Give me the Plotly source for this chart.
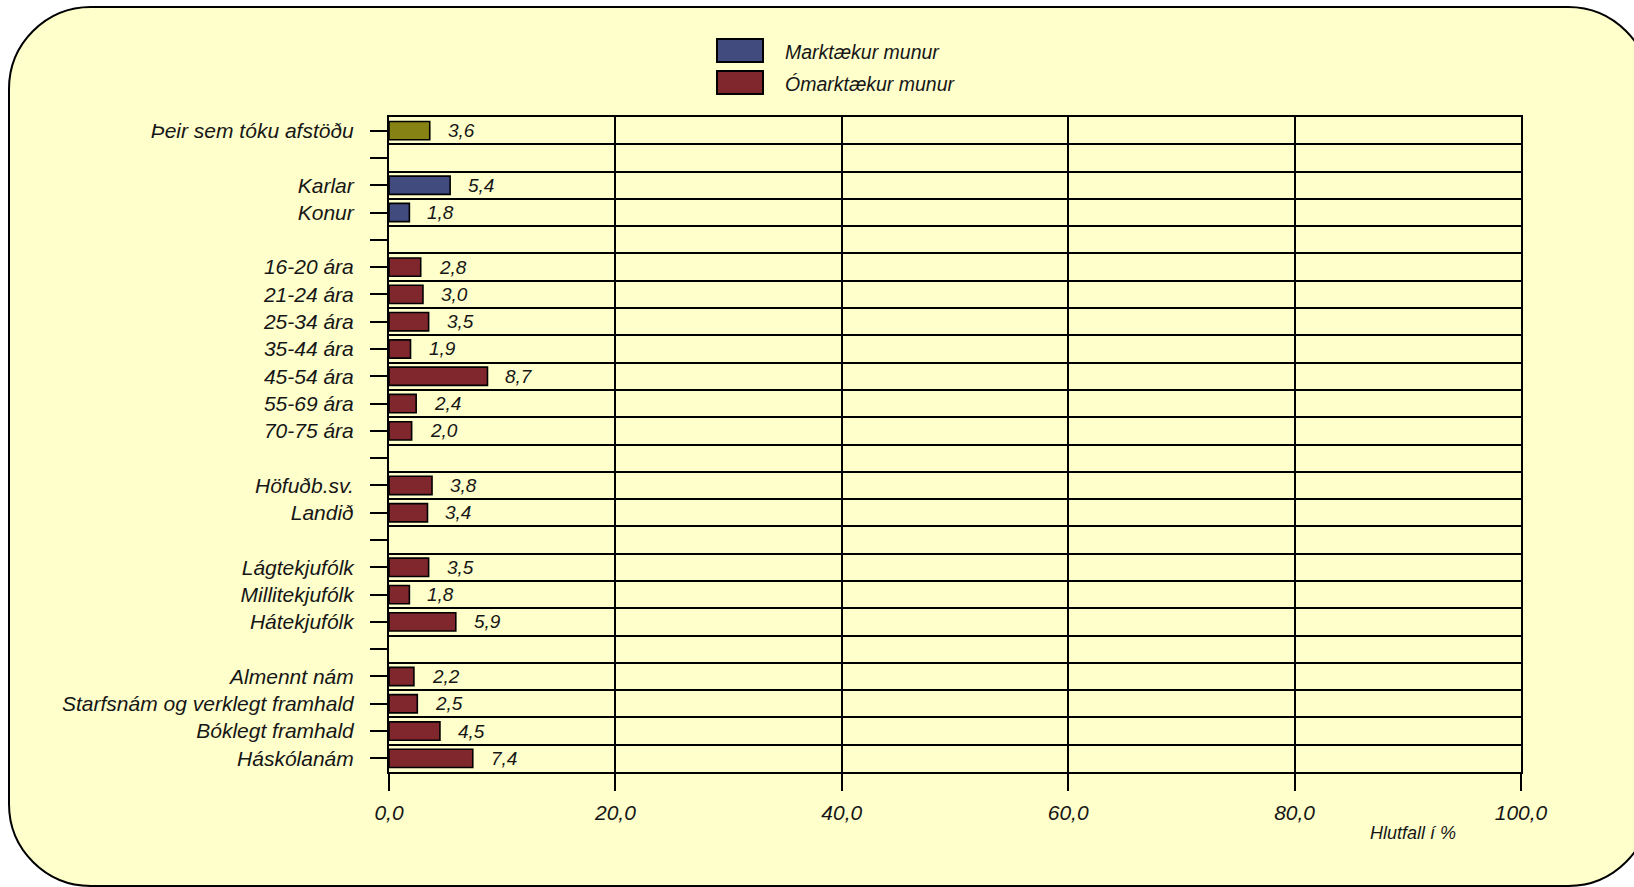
import plotly.graph_objects as go

# ---------------- data ----------------
categories = [
    "Þeir sem tóku afstöðu", "",
    "Karlar", "Konur", "",
    "16-20 ára", "21-24 ára", "25-34 ára", "35-44 ára", "45-54 ára", "55-69 ára", "70-75 ára", "",
    "Höfuðb.sv.", "Landið", "",
    "Lágtekjufólk", "Millitekjufólk", "Hátekjufólk", "",
    "Almennt nám", "Starfsnám og verklegt framhald", "Bóklegt framhald", "Háskólanám",
]
values = [
    3.6, None,
    5.4, 1.8, None,
    2.8, 3.0, 3.5, 1.9, 8.7, 2.4, 2.0, None,
    3.8, 3.4, None,
    3.5, 1.8, 5.9, None,
    2.2, 2.5, 4.5, 7.4,
]
groups = [
    "heild", "",
    "mark", "mark", "",
    "omark", "omark", "omark", "omark", "omark", "omark", "omark", "",
    "omark", "omark", "",
    "omark", "omark", "omark", "",
    "omark", "omark", "omark", "omark",
]
legend_labels = ["Marktækur munur", "Ómarktækur munur"]
legend_groups = ["mark", "omark"]
x_ticks = [0, 20, 40, 60, 80, 100]
x_ticktext = ["0,0", "20,0", "40,0", "60,0", "80,0", "100,0"]
x_title = "Hlutfall í %"

# ---------------- style ----------------
colors = {"heild": "#878214", "mark": "#414B7E", "omark": "#80272D", "": "rgba(0,0,0,0)"}
BG = "#FFFFCC"
FONT = "Liberation Sans, Arial, sans-serif"
INK = "#161616"

W, H = 1634, 887
L, R, T, B = 389, 113, 117, 115
PW, PH = W - L - R, H - T - B


def px_x(px):
    return (px - L) / PW


def px_y(py):
    return (H - B - py) / PH


rows = list(range(len(categories)))
bar_rows = [r for r, v in zip(rows, values) if v is not None]
bar_vals = [v for v in values if v is not None]
bar_cols = [colors[g] for g, v in zip(groups, values) if v is not None]

fig = go.Figure()
fig.add_trace(go.Bar(
    x=bar_vals, y=bar_rows, orientation="h",
    marker=dict(color=bar_cols, line=dict(color="#000000", width=1.6)),
    width=0.67, showlegend=False, hoverinfo="x+y",
))

# value labels
for r, v in zip(bar_rows, bar_vals):
    fig.add_annotation(
        x=v, y=r, xref="x", yref="y", text=f"{v:.1f}".replace(".", ","),
        showarrow=False, xanchor="left", yanchor="middle", xshift=16,
        font=dict(family=FONT, size=19, color=INK, style="italic"),
    )

fig.update_xaxes(
    range=[0, 100], tickvals=x_ticks, ticktext=x_ticktext,
    showgrid=True, gridcolor="#000000", gridwidth=2,
    ticks="outside", ticklen=17, tickwidth=2, tickcolor="#000000",
    showline=True, mirror=True, linecolor="#000000", linewidth=2,
    zeroline=False, ticklabelstandoff=4,
    tickfont=dict(family=FONT, size=21, color=INK, style="italic"),
)
fig.update_yaxes(
    range=[len(categories) - 0.5, -0.5], tickvals=rows, ticktext=categories,
    showgrid=False, zeroline=False,
    ticks="outside", ticklen=17, tickwidth=2, tickcolor="#000000",
    showline=True, mirror=True, linecolor="#000000", linewidth=2,
    ticklabelstandoff=12,
    tickfont=dict(family=FONT, size=21, color=INK, style="italic"),
    minor=dict(tickvals=[r + 0.5 for r in rows[:-1]], showgrid=True,
               gridcolor="#000000", gridwidth=2, ticks=""),
)

# rounded background panel (circular corners via cubic Bezier)
rad = 82
k = 0.5523 * rad
left, right, top, bottom = 9, 1650, 7, 886
pts = []


def P(px, py):
    return f"{px_x(px):.5f},{px_y(py):.5f}"


path = (
    f"M{P(left + rad, top)} L{P(right - rad, top)} "
    f"C{P(right - rad + k, top)} {P(right, top + rad - k)} {P(right, top + rad)} "
    f"L{P(right, bottom - rad)} "
    f"C{P(right, bottom - rad + k)} {P(right - rad + k, bottom)} {P(right - rad, bottom)} "
    f"L{P(left + rad, bottom)} "
    f"C{P(left + rad - k, bottom)} {P(left, bottom - rad + k)} {P(left, bottom - rad)} "
    f"L{P(left, top + rad)} "
    f"C{P(left, top + rad - k)} {P(left + rad - k, top)} {P(left + rad, top)} Z"
)
fig.add_shape(type="path", path=path, xref="paper", yref="paper",
              fillcolor=BG, line=dict(color="#000000", width=2), layer="below")

# legend (manual, large swatches)
box_tops = [39, 71]
for i, (lab, g) in enumerate(zip(legend_labels, legend_groups)):
    btop = box_tops[i]
    fig.add_shape(type="rect", xref="paper", yref="paper",
                  x0=px_x(717), x1=px_x(763), y0=px_y(btop + 23), y1=px_y(btop),
                  fillcolor=colors[g], line=dict(color="#000000", width=2))
    fig.add_annotation(x=px_x(783), y=px_y(btop + 13), xref="paper", yref="paper",
                       text=lab, showarrow=False, xanchor="left", yanchor="middle",
                       font=dict(family=FONT, size=19.5, color=INK, style="italic"))

fig.add_annotation(x=px_x(1413), y=px_y(833), xref="paper", yref="paper",
                   text=x_title, showarrow=False, xanchor="center", yanchor="middle",
                   font=dict(family=FONT, size=18, color=INK, style="italic"))

fig.update_layout(
    width=W, height=H,
    margin=dict(l=L, r=R, t=T, b=B, autoexpand=False),
    paper_bgcolor="#FFFFFF", plot_bgcolor="rgba(0,0,0,0)",
    bargap=0.33, barmode="overlay",
)

fig.write_html(
    "out.html",
    config={"displayModeBar": False},
    post_script="document.body.style.margin='0';document.body.style.overflow='hidden';",
)
